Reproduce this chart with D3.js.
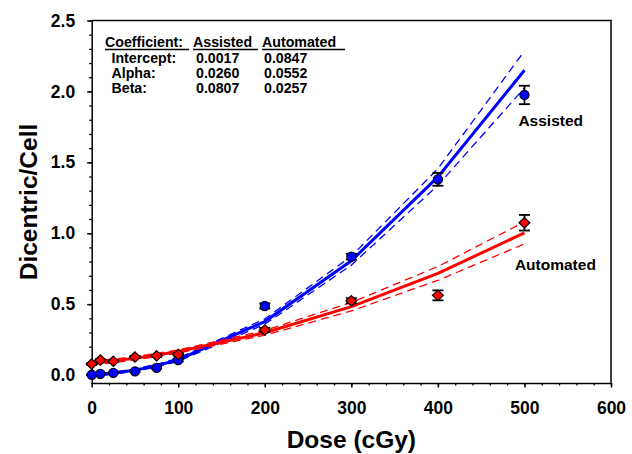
<!DOCTYPE html>
<html>
<head>
  <meta charset="utf-8">
  <title>Dicentric yield vs dose</title>
  <script src="https://d3js.org/d3.v7.min.js"></script>
  <style>
    body { margin: 0; background: #fff; }
    text { font-family: "Liberation Sans", Arial, Helvetica, sans-serif; font-weight: bold; }
  </style>
</head>
<body>

<div id="chart"></div>

<script>
// Doses (cGy) used for measurements and for the drawn fit lines
const doses = [0, 10, 25, 50, 75, 100, 200, 300, 400, 500];

// Measured dicentrics per cell, with standard errors
const assistedMean = [0.002, 0.009, 0.016, 0.026, 0.051, 0.106, 0.487, 0.835, 1.38, 1.975];
const assistedErr  = [0.002, 0.003, 0.004, 0.005, 0.007, 0.01, 0.018, 0.02, 0.045, 0.065];
const automatedMean = [0.078, 0.106, 0.097, 0.127, 0.136, 0.146, 0.318, 0.524, 0.562, 1.074];
const automatedErr  = [0.005, 0.006, 0.006, 0.007, 0.008, 0.009, 0.015, 0.018, 0.035, 0.055];

// Fitted curves and confidence bands, read at each dose
const assistedFit   = [0.0017, 0.0051, 0.0132, 0.0349, 0.0666, 0.108, 0.377, 0.806, 1.397, 2.149];
const assistedUpper = [0.010, 0.013, 0.021, 0.043, 0.076, 0.119, 0.396, 0.838, 1.455, 2.285];
const assistedLower = [-0.006, -0.003, 0.006, 0.027, 0.057, 0.097, 0.358, 0.775, 1.338, 2.025];
const automatedFit   = [0.0847, 0.0905, 0.100, 0.119, 0.141, 0.166, 0.298, 0.482, 0.717, 1.003];
const automatedUpper = [0.099, 0.104, 0.113, 0.131, 0.152, 0.177, 0.315, 0.512, 0.765, 1.08];
const automatedLower = [0.070, 0.077, 0.087, 0.107, 0.130, 0.155, 0.281, 0.452, 0.668, 0.925];

// Coefficient table
const coefHeader = ["Coefficient:", "Assisted", "Automated"];
const coefRows = [
  ["Intercept:", "0.0017", "0.0847"],
  ["Alpha:", "0.0260", "0.0552"],
  ["Beta:", "0.0807", "0.0257"]
];

const xTicks = [0, 100, 200, 300, 400, 500, 600];
const yTicks = [0.0, 0.5, 1.0, 1.5, 2.0, 2.5];

const W = 632, H = 454;
const margin = { top: 20.5, right: 21, bottom: 71, left: 91.7 };
const width = W - margin.left - margin.right;
const height = H - margin.top - margin.bottom;

const svg = d3.select("#chart").append("svg")
  .attr("width", W)
  .attr("height", H);

const g = svg.append("g")
  .attr("transform", `translate(${margin.left},${margin.top})`);

const x = d3.scaleLinear().domain([0, 600]).range([0, width]);
const y = d3.scaleLinear().domain([-0.056, 2.5]).range([height, 0]);

// frame (top and right)
g.append("path")
  .attr("d", `M0,0H${width}V${height}`)
  .attr("fill", "none")
  .attr("stroke", "#000")
  .attr("stroke-width", 1.5);

// minor ticks
g.append("g")
  .attr("transform", `translate(0,${height})`)
  .call(d3.axisBottom(x).tickValues(d3.range(0, 601, 20)).tickSize(2.5).tickFormat("").tickSizeOuter(0))
  .call(s => s.select(".domain").remove())
  .selectAll("line").attr("stroke-width", 1.3);
g.append("g")
  .call(d3.axisLeft(y).tickValues(d3.range(0, 26).map(i => i / 10)).tickSize(2.5).tickFormat("").tickSizeOuter(0))
  .call(s => s.select(".domain").remove())
  .selectAll("line").attr("stroke-width", 1.3);

// major axes
const xAxis = g.append("g")
  .attr("transform", `translate(0,${height})`)
  .call(d3.axisBottom(x).tickValues(xTicks).tickSize(4.5).tickPadding(14).tickSizeOuter(0).tickFormat(d3.format("d")));
const yAxis = g.append("g")
  .call(d3.axisLeft(y).tickValues(yTicks).tickSize(4.5).tickPadding(12).tickSizeOuter(0).tickFormat(d3.format(".1f")));

[xAxis, yAxis].forEach(a => {
  a.select(".domain").attr("stroke-width", 1.5);
  a.selectAll(".tick line").attr("stroke-width", 1.5);
  a.selectAll("text")
    .attr("font-size", 17.5)
    .attr("fill", "#000")
    .attr("font-family", "'Liberation Sans', Arial, sans-serif")
    .attr("font-weight", "bold");
});

// axis titles
svg.append("text")
  .attr("x", margin.left + width / 2)
  .attr("y", 448)
  .attr("text-anchor", "middle")
  .attr("font-size", 24.5)
  .text("Dose (cGy)");

svg.append("text")
  .attr("transform", `translate(37,202) rotate(-90)`)
  .attr("text-anchor", "middle")
  .attr("font-size", 24.5)
  .text("Dicentric/Cell");

// lines
const line = d3.line()
  .x((d, i) => x(doses[i]))
  .y(d => y(d));

const series = [
  { color: "#0000ff", fit: assistedFit, upper: assistedUpper, lower: assistedLower,
    mean: assistedMean, err: assistedErr, shape: "circle" },
  { color: "#ff0000", fit: automatedFit, upper: automatedUpper, lower: automatedLower,
    mean: automatedMean, err: automatedErr, shape: "diamond" }
];

series.forEach(s => {
  [s.upper, s.lower].forEach(band => {
    g.append("path")
      .datum(band)
      .attr("d", line)
      .attr("fill", "none")
      .attr("stroke", s.color)
      .attr("stroke-width", 1.3)
      .attr("stroke-dasharray", "8,5");
  });
  g.append("path")
    .datum(s.fit)
    .attr("d", line)
    .attr("fill", "none")
    .attr("stroke", s.color)
    .attr("stroke-width", 3);
});

// error bars and markers
series.forEach(s => {
  const pts = doses.map((d, i) => ({ dose: d, v: s.mean[i], e: s.err[i] }));
  const eb = g.append("g").attr("stroke", "#000").attr("stroke-width", 1.8);
  pts.forEach(p => {
    const cx = x(p.dose);
    eb.append("line").attr("x1", cx).attr("x2", cx).attr("y1", y(p.v + p.e)).attr("y2", y(p.v - p.e));
    [p.v + p.e, p.v - p.e].forEach(v => {
      eb.append("line").attr("x1", cx - 5.5).attr("x2", cx + 5.5).attr("y1", y(v)).attr("y2", y(v));
    });
  });
  const marker = s.shape === "circle"
    ? d3.symbol().type(d3.symbolCircle).size(Math.PI * 4.6 * 4.6)()
    : "M0,-5.2L5.5,0L0,5.2L-5.5,0Z";
  g.append("g").selectAll("path")
    .data(pts)
    .join("path")
    .attr("transform", p => `translate(${x(p.dose)},${y(p.v)})`)
    .attr("d", marker)
    .attr("fill", s.color)
    .attr("stroke", "#000")
    .attr("stroke-width", 1.1);
});

// series labels
g.append("text")
  .attr("x", x(493)).attr("y", y(1.756))
  .attr("font-size", 15.5)
  .text("Assisted");
g.append("text")
  .attr("x", x(489)).attr("y", y(0.74))
  .attr("font-size", 15.5)
  .text("Automated");

// coefficient table
const tbl = svg.append("g").attr("font-size", 14.2);
const headX = [105, 193, 262];
const headEnd = [189, 258, 345];
coefHeader.forEach((t, i) => {
  tbl.append("text").attr("x", headX[i]).attr("y", 46.5).text(t);
  tbl.append("line")
    .attr("x1", headX[i]).attr("x2", headEnd[i])
    .attr("y1", 49.5).attr("y2", 49.5)
    .attr("stroke", "#000").attr("stroke-width", 1.5);
});
const colX = [111.5, 196, 264];
coefRows.forEach((row, r) => {
  row.forEach((t, c) => {
    tbl.append("text")
      .attr("x", colX[c])
      .attr("y", 62.5 + r * 15)
      .text(t);
  });
});
</script>

</body>
</html>
